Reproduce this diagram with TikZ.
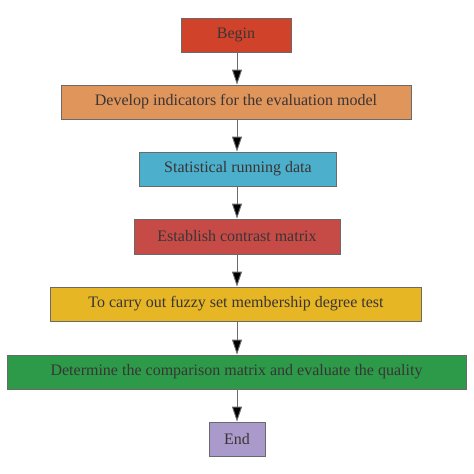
\documentclass[tikz,border=0pt]{standalone}
\usepackage{fontspec}
\setmainfont{Liberation Serif}
\usetikzlibrary{arrows.meta}
\definecolor{cbegin}{HTML}{D0432A}
\definecolor{cdev}{HTML}{E0955A}
\definecolor{cstat}{HTML}{4CAFCB}
\definecolor{cest}{HTML}{C64B47}
\definecolor{cfuzzy}{HTML}{E7B624}
\definecolor{cdet}{HTML}{2C9A48}
\definecolor{cend}{HTML}{AA9ACC}
\definecolor{ctext}{HTML}{3A3535}
\definecolor{cline}{HTML}{6A6A6A}
\begin{document}
\begin{tikzpicture}[x=1pt,y=1pt,
  stepbox/.style={draw=cline, line width=0.8pt, inner sep=0pt, text=ctext, font=\fontsize{16}{18}\selectfont},
  flow/.style={draw=cline, line width=0.9pt, -{Triangle[width=10pt,length=15pt,fill=black]}}]
\useasboundingbox (0,0) rectangle (474,-474);
\fill[white] (0,0) rectangle (474,-474);
\node[stepbox, fill=cbegin, minimum width=110pt, minimum height=34pt] (b) at (236,-35) {Begin};
\node[stepbox, fill=cdev, minimum width=350pt, minimum height=34pt] (d) at (236,-102) {Develop indicators for the evaluation model};
\node[stepbox, fill=cstat, minimum width=197pt, minimum height=34pt] (s) at (238,-169) {Statistical running data};
\node[stepbox, fill=cest, minimum width=206pt, minimum height=35pt] (e) at (237,-236.5) {Establish contrast matrix};
\node[stepbox, fill=cfuzzy, minimum width=371pt, minimum height=34pt] (f) at (236,-304) {To carry out fuzzy set membership degree test};
\node[stepbox, fill=cdet, minimum width=459pt, minimum height=34pt] (t) at (236.5,-372) {Determine the comparison matrix and evaluate the quality};
\node[stepbox, fill=cend, minimum width=56pt, minimum height=34pt] (n) at (237,-439) {End};
\draw[flow] (b.south -| 237,0) -- (d.north -| 237,0);
\draw[flow] (d.south -| 237,0) -- (s.north -| 237,0);
\draw[flow] (s.south -| 237,0) -- (e.north -| 237,0);
\draw[flow] (e.south -| 237,0) -- (f.north -| 237,0);
\draw[flow] (f.south -| 237,0) -- (t.north -| 237,0);
\draw[flow] (t.south -| 237,0) -- (n.north -| 237,0);
\end{tikzpicture}
\end{document}
